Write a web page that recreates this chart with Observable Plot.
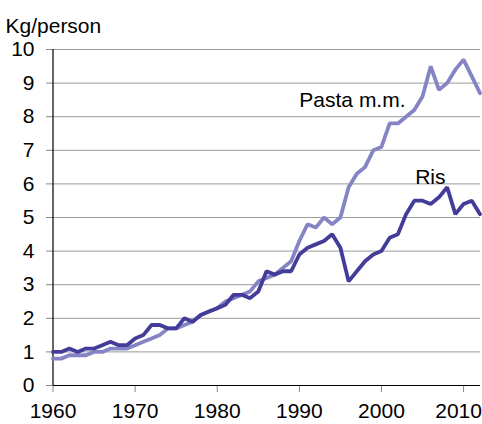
<!DOCTYPE html>
<html>
<head>
<meta charset="utf-8">
<script src="https://cdn.jsdelivr.net/npm/d3@7"></script>
<script src="https://cdn.jsdelivr.net/npm/@observablehq/plot@0.6"></script>
<style>
  html, body { margin: 0; padding: 0; background: #fff; }
</style>
</head>
<body>
<div id="chart"></div>
<script>
const years = d3.range(1960, 2013);
const ris = [1.0, 1.0, 1.1, 1.0, 1.1, 1.1, 1.2, 1.3, 1.2, 1.2,
             1.4, 1.5, 1.8, 1.8, 1.7, 1.7, 2.0, 1.9, 2.1, 2.2,
             2.3, 2.4, 2.7, 2.7, 2.6, 2.8, 3.4, 3.3, 3.4, 3.4,
             3.9, 4.1, 4.2, 4.3, 4.5, 4.1, 3.1, 3.4, 3.7, 3.9,
             4.0, 4.4, 4.5, 5.1, 5.5, 5.5, 5.4, 5.6, 5.9, 5.1,
             5.4, 5.5, 5.1];
const pasta = [0.8, 0.8, 0.9, 0.9, 0.9, 1.0, 1.0, 1.1, 1.1, 1.1,
               1.2, 1.3, 1.4, 1.5, 1.7, 1.7, 1.8, 1.9, 2.1, 2.2,
               2.3, 2.5, 2.6, 2.7, 2.8, 3.1, 3.2, 3.3, 3.5, 3.7,
               4.3, 4.8, 4.7, 5.0, 4.8, 5.0, 5.9, 6.3, 6.5, 7.0,
               7.1, 7.8, 7.8, 8.0, 8.2, 8.6, 9.5, 8.8, 9.0, 9.4,
               9.7, 9.2, 8.7];
const xTicks = [1960, 1970, 1980, 1990, 2000, 2010];
const yTicks = d3.range(0, 11);
const seriesLabels = [
  {name: "Pasta m.m.", year: 1990, value: 8.49},
  {name: "Ris", year: 2004.1, value: 6.2}
];
const colors = {pasta: "#8584c4", ris: "#433d99"};

const risData = years.map((y, i) => ({year: y, value: ris[i]}));
const pastaData = years.map((y, i) => ({year: y, value: pasta[i]}));

const axisOpts = {tickSize: 7, tickPadding: 11, stroke: "#888", label: null, tickFormat: d => String(d), fontSize: 21};

const chart = Plot.plot({
  width: 482,
  height: 424,
  marginLeft: 53,
  marginRight: 2,
  marginTop: 49,
  marginBottom: 39,
  style: {fontFamily: "'Liberation Sans', Arial, sans-serif", fontSize: "21px", background: "#fff", color: "#000"},
  x: {domain: [1960, 2012], range: [52.5, 479.5]},
  y: {domain: [0, 10]},
  marks: [
    Plot.gridY(yTicks.filter(d => d > 0), {stroke: "#9a9a9a", strokeOpacity: 1, strokeWidth: 1}),
    Plot.axisY({ticks: yTicks, tickSize: 7, tickPadding: 12, stroke: "#888", label: null, tickFormat: d => String(d), fontSize: 21}),
    Plot.axisX({...axisOpts, ticks: xTicks.slice(0, -1)}),
    Plot.axisX({...axisOpts, ticks: xTicks.slice(-1), dx: -5, strokeOpacity: 0}),
    Plot.axisX({...axisOpts, ticks: xTicks.slice(-1), tickFormat: () => ""}),
    Plot.ruleX([1960], {stroke: "#000", strokeWidth: 1.2}),
    Plot.ruleY([0], {stroke: "#000", strokeWidth: 1.2}),
    Plot.line(pastaData, {x: "year", y: "value", stroke: colors.pasta, strokeWidth: 3.8, strokeLinejoin: "miter"}),
    Plot.line(risData, {x: "year", y: "value", stroke: colors.ris, strokeWidth: 3.8, strokeLinejoin: "miter"}),
    Plot.text(seriesLabels, {x: "year", y: "value", text: "name", textAnchor: "start", fill: "#000", fontSize: 21}),
    Plot.text(["Kg/person"], {frameAnchor: "top-left", dx: -48, dy: -31, textAnchor: "start", fill: "#000", fontSize: 21})
  ]
});
document.getElementById("chart").appendChild(chart);
</script>
</body>
</html>
